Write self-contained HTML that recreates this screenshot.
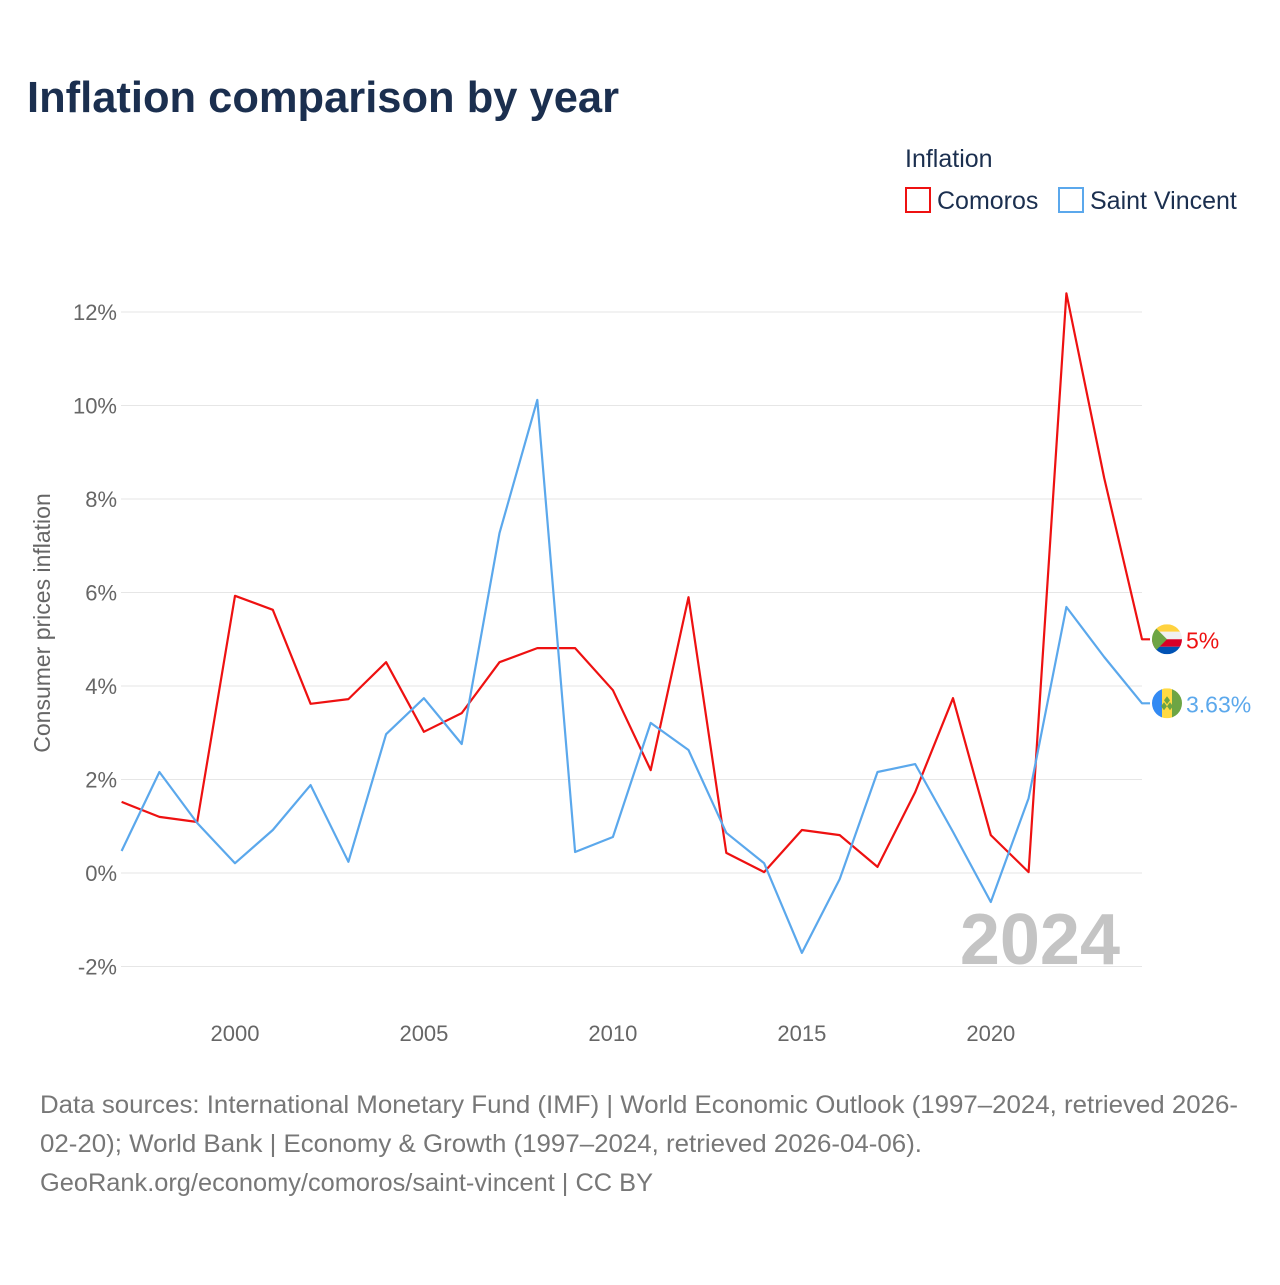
<!DOCTYPE html>
<html><head><meta charset="utf-8"><style>
body{margin:0;background:#fff;font-family:"Liberation Sans",sans-serif;}
svg text{font-family:"Liberation Sans",sans-serif;}
</style></head><body>
<svg width="1280" height="1280" xmlns="http://www.w3.org/2000/svg">
<text x="27" y="112" font-size="44" font-weight="bold" fill="#1b2f4f" textLength="592" lengthAdjust="spacingAndGlyphs">Inflation comparison by year</text>
<text x="905" y="167" font-size="25" fill="#1b2f4f">Inflation</text>
<g><rect x="906" y="188" width="24" height="24" fill="none" stroke="#ee1111" stroke-width="2"/><text x="937" y="209" font-size="25" fill="#1b2f4f">Comoros</text></g>
<g><rect x="1059" y="188" width="24" height="24" fill="none" stroke="#5ba8ec" stroke-width="2"/><text x="1090" y="209" font-size="25" fill="#1b2f4f">Saint Vincent</text></g>
<g id="grid"></g><g id="series"></g>
<text transform="translate(50,623) rotate(-90)" text-anchor="middle" font-size="23" fill="#666">Consumer prices inflation</text>
<text x="1120" y="964" text-anchor="end" font-size="72" font-weight="bold" fill="#c4c4c4">2024</text>
<text font-size="25" fill="#777"><tspan x="40" y="1113" textLength="1198" lengthAdjust="spacingAndGlyphs">Data sources: International Monetary Fund (IMF) | World Economic Outlook (1997–2024, retrieved 2026-</tspan><tspan x="40" y="1152" textLength="882" lengthAdjust="spacingAndGlyphs">02-20); World Bank | Economy &amp; Growth (1997–2024, retrieved 2026-04-06).</tspan><tspan x="40" y="1191" textLength="613" lengthAdjust="spacingAndGlyphs">GeoRank.org/economy/comoros/saint-vincent | CC BY</tspan></text>
</svg>
<script>
const years=[1997,1998,1999,2000,2001,2002,2003,2004,2005,2006,2007,2008,2009,2010,2011,2012,2013,2014,2015,2016,2017,2018,2019,2020,2021,2022,2023,2024];
const comoros=[1.52,1.2,1.09,5.93,5.63,3.62,3.72,4.51,3.02,3.42,4.51,4.81,4.81,3.91,2.2,5.9,0.43,0.02,0.92,0.81,0.13,1.73,3.74,0.81,0.02,12.4,8.45,5.0];
const stVincent=[0.47,2.16,1.07,0.21,0.92,1.88,0.24,2.97,3.74,2.76,7.27,10.12,0.45,0.77,3.21,2.63,0.86,0.21,-1.71,-0.13,2.16,2.33,0.88,-0.62,1.6,5.69,4.62,3.63];
const yTicks=[-2,0,2,4,6,8,10,12];
const xTicks=[2000,2005,2010,2015,2020];
const NS="http://www.w3.org/2000/svg";
const X=y=>121.6+(y-1997)*(1142-121.6)/27;
const Y=v=>873-v*46.75;
const grid=document.getElementById('grid'),ser=document.getElementById('series');
function mk(tag,attrs,parent){const e=document.createElementNS(NS,tag);for(const k in attrs)e.setAttribute(k,attrs[k]);parent.appendChild(e);return e;}
yTicks.forEach(t=>{
 const l=mk('line',{x1:121,x2:1142,y1:Y(t),y2:Y(t),stroke:'#e6e6e6','stroke-width':1},grid);
 
 
 const tx=mk('text',{x:117,y:Y(t)+8,'text-anchor':'end','font-size':22,fill:'#666'},grid);
 tx.textContent=t+'%';
 
 
});
xTicks.forEach(t=>{
 const tx=mk('text',{x:X(t),y:1041,'text-anchor':'middle','font-size':22,fill:'#666'},grid);
 tx.textContent=t;
 
 
});
function line(vals,color,name){
 const d=vals.map((v,i)=>(i?'L':'M')+X(years[i]).toFixed(1)+','+Y(v).toFixed(1)).join('')+'h8';
 const p=mk('path',{d:d,fill:'none',stroke:color,'stroke-width':2.2,'stroke-linejoin':'round'},ser);
 
 
}
line(comoros,'#ee1111','comoros-line');
line(stVincent,'#5ba8ec','saint-vincent-line');
const cv=comoros[comoros.length-1],sv=stVincent[stVincent.length-1];
const fx=1167;
const g1=mk('g',{},ser);


const cy=Y(cv);
const cp1=mk('clipPath',{id:'c1'},g1);mk('circle',{cx:fx,cy:cy,r:15},cp1);
const c1=mk('g',{'clip-path':'url(#c1)'},g1);
[['#ffd23f',0],['#f0f0f0',1],['#d80027',2],['#0052b4',3]].forEach(([c,i])=>mk('rect',{x:fx-15,y:cy-15+i*7.5,width:30,height:7.5,fill:c},c1));
mk('path',{d:`M${fx-15},${cy-15}L${fx},${cy}L${fx-15},${cy+15}Z`,fill:'#6da544'},c1);
const t1=mk('text',{x:1186,y:cy+9,'font-size':23,fill:'#ee1111'},ser);t1.textContent=cv+'%';


const g2=mk('g',{},ser);


const sy=Y(sv);
const cp=mk('clipPath',{id:'c2'},g2);mk('circle',{cx:fx,cy:sy,r:15},cp);
const c2=mk('g',{'clip-path':'url(#c2)'},g2);
mk('rect',{x:fx-15,y:sy-15,width:10,height:30,fill:'#338af3'},c2);
mk('rect',{x:fx-5,y:sy-15,width:10,height:30,fill:'#ffda44'},c2);
mk('rect',{x:fx+5,y:sy-15,width:10,height:30,fill:'#6da544'},c2);
mk('path',{d:`M${fx-3},${sy-3}l3,-4l3,4l-3,4zM${fx-6},${sy+3}l3,-4l3,4l-3,4zM${fx},${sy+3}l3,-4l3,4l-3,4z`,fill:'#6da544'},c2);
const t2=mk('text',{x:1186,y:sy+9,'font-size':23,fill:'#5ba8ec'},ser);t2.textContent=sv+'%';


</script>
</body></html>
